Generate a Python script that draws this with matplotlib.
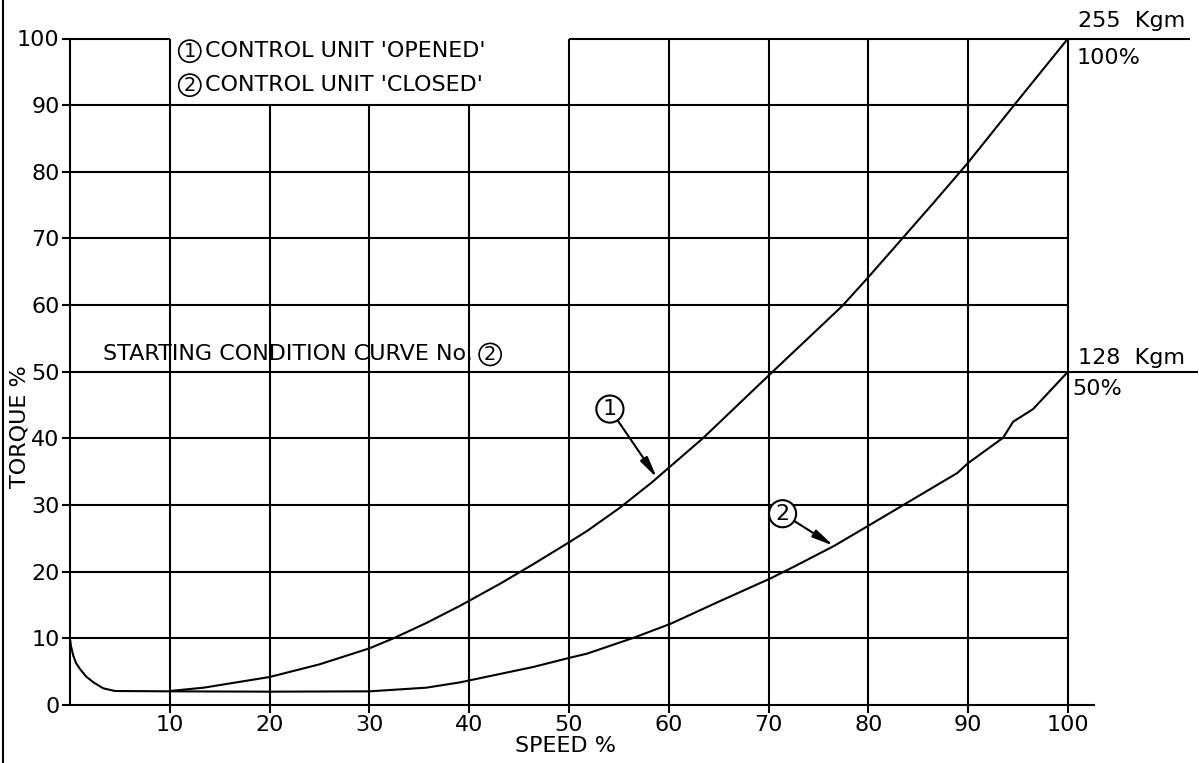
import matplotlib
matplotlib.use('Agg')
import matplotlib.pyplot as plt
from matplotlib.lines import Line2D

# curve 1: control unit opened
speed_opened = [10, 13.4, 20, 25, 30, 32.4, 35.7, 39.1, 43.1, 46.5, 50.1, 51.8,
                55.1, 58.3, 63.4, 70.4, 73.8, 77.4, 80, 83.4, 86.5, 90, 94.6, 100]
torque_opened = [2.1, 2.6, 4.2, 6.1, 8.5, 10, 12.3, 14.9, 18.2, 21.2, 24.5, 26.1,
                 29.6, 33.4, 40, 50, 54.8, 59.9, 64.2, 70, 75.3, 81.4, 90, 100]

# curve 2: control unit closed
speed_closed = [0, 0.1, 0.33, 0.6, 1.0, 1.6, 2.34, 3.34, 4.5, 10, 20, 30, 35.7,
                39.1, 41, 46.4, 50.1, 51.8, 56.5, 60.2, 65, 70.2, 72.6, 76.6, 80,
                88.9, 90, 93.5, 94.5, 96.5, 100]
torque_closed = [10, 8.8, 7.4, 6.3, 5.4, 4.3, 3.4, 2.5, 2.1, 2.05, 2.0, 2.05, 2.6,
                 3.4, 4.0, 5.7, 7.1, 7.7, 10.1, 12.2, 15.5, 19.0, 20.8, 23.9, 26.9,
                 34.8, 36.3, 40.1, 42.5, 44.4, 50]

x_ticks = list(range(10, 101, 10))
y_ticks = list(range(0, 101, 10))

plt.rcParams['font.family'] = ['DejaVu Sans', 'Noto Sans CJK SC']
FS = 16
LW = 1.5

fig = plt.figure(figsize=(11.99, 7.63), dpi=100)
ax = fig.add_axes([70 / 1199, 58 / 763, 998 / 1199, 666.5 / 763])
ax.set_xlim(0, 100)
ax.set_ylim(0, 100)

for s in ['top', 'right', 'bottom']:
    ax.spines[s].set_visible(False)
ax.spines['left'].set_linewidth(LW)

ax.set_xticks(x_ticks)
ax.set_yticks(y_ticks)
ax.tick_params(direction='out', length=5.5, width=LW, labelsize=FS, pad=2, color='black')

# grid, drawn the CAD way
k = dict(colors='black', linewidth=LW, clip_on=False, zorder=1)
for y in range(10, 100, 10):
    if y != 50:
        ax.hlines(y, 0, 100, **k)
ax.hlines(50, 0, 113, **k)
ax.hlines(100, 0, 10, **k)
ax.hlines(100, 50, 112.2, **k)
ax.hlines(0, 0, 102.7, **k)
ax.vlines(10, 0, 100, **k)
for x in [20, 30, 40]:
    ax.vlines(x, 0, 90, **k)
for x in range(50, 101, 10):
    ax.vlines(x, 0, 100, **k)

ax.plot(speed_opened, torque_opened, color='black', linewidth=LW, zorder=3)
ax.plot(speed_closed, torque_closed, color='black', linewidth=LW, zorder=3)

arrow = dict(arrowstyle='-|>,head_length=0.9,head_width=0.18', color='black',
             linewidth=LW, shrinkA=0, shrinkB=0, mutation_scale=14)
circ = dict(boxstyle='circle,pad=0.16', facecolor='white', edgecolor='black', linewidth=LW)
ax.annotate('1', xy=(58.8, 34.1), xytext=(54.1, 44.4), fontsize=FS, ha='center', va='center',
            bbox=circ, arrowprops=arrow)
ax.annotate('2', xy=(76.5, 23.9), xytext=(71.4, 28.7), fontsize=FS, ha='center', va='center',
            bbox=circ, arrowprops=arrow)

small_circ = dict(boxstyle='circle,pad=0.08', facecolor='none', edgecolor='black', linewidth=1.2)


def circled(x, y, label):
    ax.text(x, y, label, fontsize=14, ha='center', va='center', bbox=small_circ, zorder=4)


circled(12.0, 98.1, '1')
ax.text(13.5, 98.1, "CONTROL UNIT 'OPENED'", fontsize=FS, va='center', ha='left')
circled(12.0, 93.0, '2')
ax.text(13.5, 93.0, "CONTROL UNIT 'CLOSED'", fontsize=FS, va='center', ha='left')

ax.text(3.3, 52.6, "STARTING CONDITION CURVE No.", fontsize=FS, va='center', ha='left')
circled(42.1, 52.6, '2')

ax.text(101.0, 102.7, "255  Kgm", fontsize=FS, va='center', ha='left')
ax.text(100.9, 97.1, "100%", fontsize=FS, va='center', ha='left')
ax.text(101.0, 52.1, "128  Kgm", fontsize=FS, va='center', ha='left')
ax.text(100.4, 47.4, "50%", fontsize=FS, va='center', ha='left')

ax.text(49.6, -6.2, "SPEED %", fontsize=FS, va='center', ha='center')
ax.text(-5.1, 41.7, "TORQUE %", fontsize=FS, va='center', ha='center', rotation=90)

# drawing frame on the left edge
fig.add_artist(Line2D([2.5 / 1199, 2.5 / 1199], [0, 1], color='black', linewidth=LW))

fig.savefig('out.png', dpi=100)
